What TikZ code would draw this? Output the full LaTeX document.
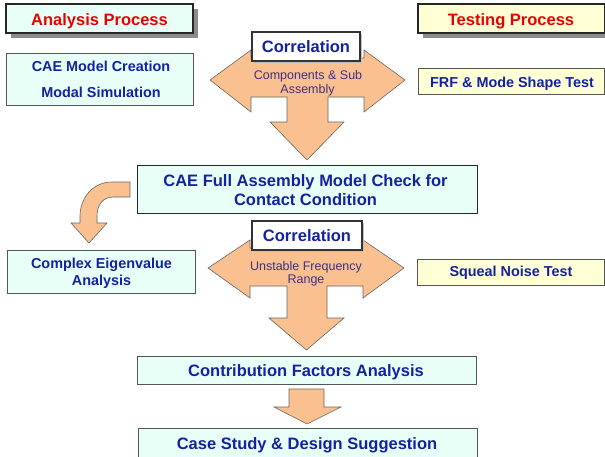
\documentclass[tikz,border=0pt]{standalone}
\usepackage{fontspec}
\setmainfont{Liberation Sans}
\usetikzlibrary{shadows}

\definecolor{mintfill}{RGB}{232,255,247}
\definecolor{creamfill}{RGB}{255,255,214}
\definecolor{peach}{RGB}{250,192,144}
\definecolor{inkblue}{RGB}{18,34,160}
\definecolor{inkred}{RGB}{235,0,0}
\definecolor{inkpurple}{RGB}{62,48,132}
\definecolor{edge}{RGB}{85,85,85}

\newcommand\fbig{\fontsize{16.5}{19}\selectfont\bfseries}
\newcommand\fmid{\fontsize{14.4}{17}\selectfont\bfseries}
\newcommand\fsmall{\fontsize{12.5}{14}\selectfont}

\begin{document}
\begin{tikzpicture}[x=1pt,y=-1pt,
  panel/.style={draw=edge,line width=0.9pt,inner sep=0pt,minimum width=#1},
  titlebox/.style={draw=black!85,line width=2.2pt,inner sep=0pt,
    drop shadow={shadow xshift=5pt,shadow yshift=-5pt,fill=black!45,opacity=1}},
  corrbox/.style={draw=black!80,line width=1.2pt,fill=white,inner sep=0pt,
    drop shadow={shadow xshift=2pt,shadow yshift=-2pt,fill=black!25,opacity=1}},
  bigarrow/.style={fill=peach,draw=black!60,line width=0.6pt,line join=miter},
  label/.style={anchor=base,inner sep=0pt},
  bluebig/.style={label,text=inkblue,font=\fbig},
  bluemid/.style={label,text=inkblue,font=\fmid},
  redbig/.style={label,text=inkred,font=\fbig},
  arrowtext/.style={label,text=inkpurple,font=\fsmall},
]
\useasboundingbox (0,0) rectangle (605,456);
\fill[white] (0,0) rectangle (605,456);

% ---- column headings
\node[titlebox,fill=mintfill,minimum width=187pt,minimum height=29pt] (headA) at (99.5,18.5) {};
\node[redbig] (headAtxt) at (99.5,25) {Analysis Process};
\node[titlebox,fill=creamfill,minimum width=187pt,minimum height=29pt] (headT) at (511.5,18.5) {};
\node[redbig] (headTtxt) at (511,25) {Testing Process};

% ---- first stage
\node[panel=187pt,fill=mintfill,minimum height=52pt] (cae) at (99.5,79) {};
\node[bluemid] (caeA) at (101,71) {CAE Model Creation};
\node[bluemid] (caeB) at (101,97) {Modal Simulation};

\node[panel=186pt,fill=creamfill,minimum height=26pt] (frf) at (511,81) {};
\node[bluemid] (frftxt) at (512,87) {FRF \& Mode Shape Test};

% three-way arrow (components)
\path[bigarrow] (210,80) -- (251,50) -- (251,58) -- (364,58) -- (364,50) -- (405,80)
  -- (364,112) -- (364,97) -- (328,97) -- (328,122) -- (344,122) -- (307,160)
  -- (270,122) -- (287,122) -- (287,97) -- (251,97) -- (251,112) -- cycle;
\node[corrbox,minimum width=108pt,minimum height=29pt] (corr1) at (306,46.5) {};
\node[bluebig] (corr1txt) at (306,52) {Correlation};
\node[arrowtext] (comp1) at (308,79) {Components \& Sub};
\node[arrowtext] (comp2) at (307.5,93) {Assembly};

% ---- full assembly stage
\node[draw=black!85,line width=1pt,inner sep=0pt,fill=mintfill,minimum width=340pt,minimum height=48pt] (full) at (307,189) {};
\node[bluebig] (fullA) at (305.5,186) {CAE Full Assembly Model Check for};
\node[bluebig] (fullB) at (305.5,205) {Contact Condition};

% bent arrow down to the eigenvalue step
\path[bigarrow] (130,182) -- (112,182) .. controls (92,182) and (80,199) .. (80,216)
  -- (80,223) -- (71,223) -- (89,243) -- (107,223) -- (97,223) -- (97,216)
  .. controls (97,205) and (103,197) .. (113,197) -- (130,197) -- cycle;

\node[panel=188pt,fill=mintfill,minimum height=43pt] (cplx) at (101,271.5) {};
\node[bluemid] (cplxA) at (101.5,268) {Complex Eigenvalue};
\node[bluemid] (cplxB) at (101.5,285) {Analysis};

\node[panel=187pt,fill=creamfill,minimum height=26pt] (squeal) at (510.5,272) {};
\node[bluemid] (squealtxt) at (511,276.5) {Squeal Noise Test};

% three-way arrow (frequency range)
\path[bigarrow] (208,268) -- (250,240) -- (250,248) -- (363,248) -- (363,240) -- (404,268)
  -- (363,298) -- (363,286) -- (327,286) -- (327,318) -- (344,318) -- (306.5,350)
  -- (269,318) -- (287,318) -- (287,286) -- (250,286) -- (250,298) -- cycle;
\node[corrbox,minimum width=110pt,minimum height=29pt] (corr2) at (307,235.5) {};
\node[bluebig] (corr2txt) at (307,241.5) {Correlation};
\node[arrowtext] (unst1) at (306,270) {Unstable Frequency};
\node[arrowtext] (unst2) at (306,283) {Range};

% ---- final stages
\node[panel=339pt,fill=mintfill,minimum height=28pt] (contrib) at (306.5,370) {};
\node[bluebig] (contribtxt) at (306,376.5) {Contribution Factors Analysis};

\path[bigarrow] (289,389) -- (324,389) -- (324,407) -- (341,407) -- (307,424)
  -- (274,407) -- (289,407) -- cycle;

\node[panel=339pt,fill=mintfill,minimum height=34pt] (case) at (307.5,445) {};
\node[bluebig] (casetxt) at (307,449) {Case Study \& Design Suggestion};
\end{tikzpicture}
\end{document}
